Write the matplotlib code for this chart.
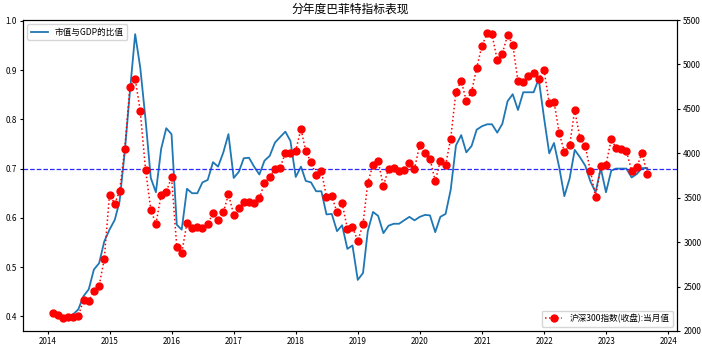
import matplotlib
matplotlib.use("Agg")
import matplotlib.pyplot as plt
import matplotlib.dates as mdates
import pandas as pd

plt.rcParams['font.family'] = ['Noto Sans CJK SC', 'DejaVu Sans']
plt.rcParams['axes.unicode_minus'] = False

# Month-end observations, Jan 2014 - Aug 2023
dates = pd.date_range('2014-01-31', periods=116, freq='ME')

# Total market cap / GDP
mcap_gdp = [
    0.404, 0.401, 0.399, 0.400, 0.404, 0.414, 0.441, 0.455, 0.495, 0.508, 0.552, 0.576,  # 2014
    0.596, 0.633, 0.735, 0.856, 0.973, 0.905, 0.800, 0.681, 0.652, 0.740, 0.782, 0.770,  # 2015
    0.586, 0.576, 0.659, 0.650, 0.650, 0.672, 0.677, 0.713, 0.704, 0.733, 0.770, 0.681,  # 2016
    0.694, 0.721, 0.722, 0.704, 0.688, 0.716, 0.726, 0.753, 0.764, 0.775, 0.756, 0.683,  # 2017
    0.704, 0.675, 0.672, 0.654, 0.654, 0.607, 0.608, 0.573, 0.585, 0.537, 0.544, 0.474,  # 2018
    0.488, 0.573, 0.612, 0.604, 0.569, 0.584, 0.588, 0.588, 0.595, 0.602, 0.595, 0.602,  # 2019
    0.606, 0.605, 0.571, 0.602, 0.608, 0.657, 0.747, 0.768, 0.733, 0.746, 0.779, 0.786,  # 2020
    0.790, 0.790, 0.773, 0.791, 0.837, 0.851, 0.819, 0.855, 0.855, 0.855, 0.882, 0.804,  # 2021
    0.731, 0.752, 0.702, 0.644, 0.680, 0.738, 0.723, 0.706, 0.674, 0.652, 0.701, 0.652,  # 2022
    0.696, 0.700, 0.700, 0.700, 0.682, 0.689, 0.701, 0.701,                              # 2023
]

# CSI 300 month-end close
csi300 = [
    2202, 2178, 2146, 2158, 2161, 2165, 2352, 2338, 2450, 2509, 2808, 3533,  # 2014
    3434, 3572, 4051, 4749, 4840, 4473, 3816, 3367, 3203, 3534, 3566, 3731,  # 2015
    2946, 2877, 3218, 3157, 3169, 3154, 3204, 3327, 3253, 3336, 3538, 3311,  # 2016
    3387, 3453, 3456, 3439, 3492, 3666, 3737, 3822, 3837, 4006, 4006, 4031,  # 2017
    4275, 4023, 3899, 3757, 3802, 3510, 3517, 3335, 3438, 3153, 3173, 3011,  # 2018
    3202, 3670, 3872, 3913, 3630, 3826, 3836, 3799, 3814, 3886, 3828, 4097,  # 2019
    4003, 3940, 3686, 3912, 3868, 4164, 4695, 4816, 4588, 4695, 4960, 5211,  # 2020
    5351, 5337, 5049, 5123, 5332, 5224, 4812, 4806, 4866, 4908, 4832, 4940,  # 2021
    4564, 4582, 4223, 4016, 4091, 4485, 4170, 4078, 3804, 3508, 3853, 3872,  # 2022
    4156, 4062, 4051, 4029, 3799, 3842, 4005, 3765,                          # 2023
]

threshold = 0.7
title = '分年度巴菲特指标表现'
label_ratio = '市值与GDP的比值'
label_index = '沪深300指数(收盘):当月值'

fig = plt.figure(figsize=(7.02, 3.48), dpi=100)
ax1 = fig.add_axes([0.0328, 0.0489, 0.9316, 0.8936])
ax2 = ax1.twinx()

ax1.plot(dates, mcap_gdp, color='#1f77b4', linewidth=1.3, label=label_ratio)
ax1.axhline(threshold, color='#2b2bff', linestyle='--', linewidth=0.9)
ax2.plot(dates, csi300, color='red', linestyle=':', linewidth=1.1,
         marker='o', markersize=5, label=label_index)

ax2.set_ylim(2000, 5500)
ax1.xaxis.set_major_locator(mdates.YearLocator())
ax1.xaxis.set_major_formatter(mdates.DateFormatter('%Y'))

for ax in (ax1, ax2):
    ax.tick_params(labelsize=5.8, length=2.5, pad=2)

ax1.legend(loc='upper left', fontsize=6.2)
ax2.legend(loc='lower right', fontsize=6.2)
ax1.set_title(title, fontsize=8.5, pad=5)

fig.savefig('out.png', dpi=100)
